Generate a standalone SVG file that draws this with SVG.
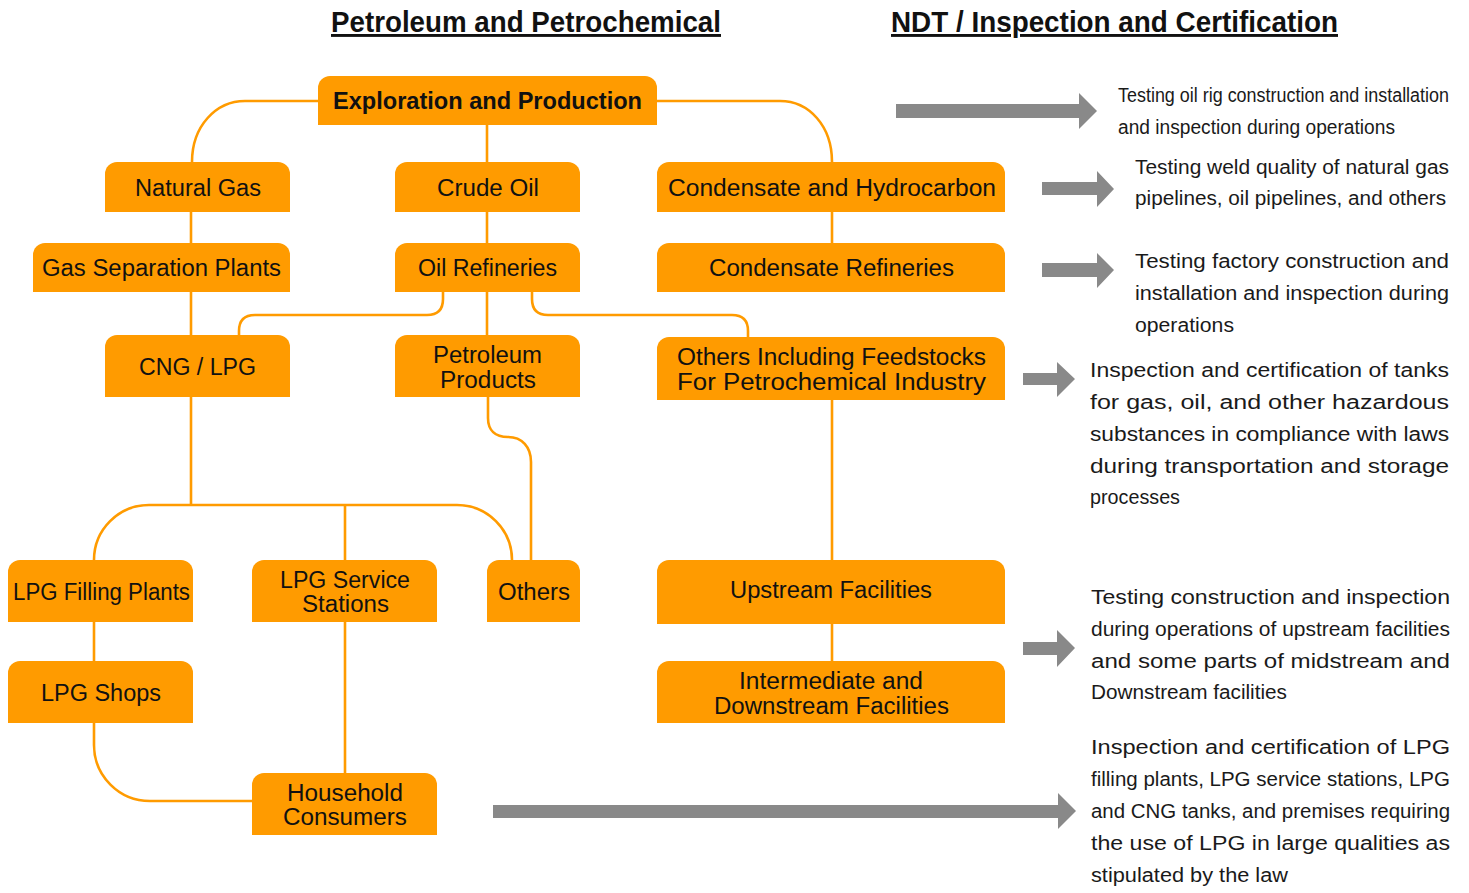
<svg xmlns="http://www.w3.org/2000/svg" width="1469" height="893" viewBox="0 0 1469 893">
<style>
.node{fill:#FF9B00}
.lbl{font-family:"Liberation Sans",Arial,sans-serif;font-size:23px;fill:#111;text-anchor:middle}
.bold{font-weight:bold}
.con{fill:none;stroke:#FF9B00;stroke-width:2.6}
.arr{fill:#898989}
.desc{font-family:"Liberation Sans",Arial,sans-serif;font-size:20px;fill:#1a1a1a}
.title{font-family:"Liberation Sans",Arial,sans-serif;font-size:29px;font-weight:bold;fill:#111;text-decoration:underline}
</style>
<rect width="1469" height="893" fill="#fff"/>
<g id="titles">
<text class="title" x="331" y="32" textLength="390" lengthAdjust="spacingAndGlyphs">Petroleum and Petrochemical</text>
<text class="title" x="891" y="32" textLength="447" lengthAdjust="spacingAndGlyphs">NDT / Inspection and Certification</text>
</g>
<g id="connectors">
<path class="con" d="M318 101 H245 C216 101 192 126 192 162"/>
<path class="con" d="M657 101 H780 C809 101 832 126 832 162"/>
<path class="con" d="M487 125 V162"/>
<path class="con" d="M191 212 V243"/>
<path class="con" d="M487 212 V243"/>
<path class="con" d="M832 212 V243"/>
<path class="con" d="M191 292 V335"/>
<path class="con" d="M487 292 V335"/>
<path class="con" d="M443 292 V299 Q443 315 427 315 H255 Q239 315 239 331 V335"/>
<path class="con" d="M532 292 V299 Q532 315 548 315 H732 Q748 315 748 331 V337"/>
<path class="con" d="M488 397 V418 C488 430 495 437 508 437 C522 437 531 447 531 462 V560"/>
<path class="con" d="M191 397 V505"/>
<path class="con" d="M94 560 A55 55 0 0 1 149 505 H457 A55 55 0 0 1 512 560"/>
<path class="con" d="M345 505 V560"/>
<path class="con" d="M94 622 V661"/>
<path class="con" d="M345 622 V773"/>
<path class="con" d="M94 723 V745 A56 56 0 0 0 150 801 H252"/>
<path class="con" d="M832 400 V560"/>
<path class="con" d="M832 624 V661"/>
</g>
<g id="arrows">
<polygon class="arr" points="896,104 1079,104 1079,93 1097,111 1079,129 1079,118 896,118"/>
<polygon class="arr" points="1042,182 1097,182 1097,171 1114,189 1097,207 1097,195 1042,195"/>
<polygon class="arr" points="1042,263 1097,263 1097,253 1114,270 1097,288 1097,277 1042,277"/>
<polygon class="arr" points="1023,373 1057,373 1057,362 1075,379 1057,397 1057,385 1023,385"/>
<polygon class="arr" points="1023,642 1057,642 1057,630 1075,648 1057,667 1057,655 1023,655"/>
<polygon class="arr" points="493,805 1058,805 1058,793 1076,811 1058,829 1058,818 493,818"/>
</g>
<g id="n-exploration">
<path class="node" d="M318 125 V88 A12 12 0 0 1 330 76 H645 A12 12 0 0 1 657 88 V125 Z"/>
<text class="lbl bold" x="487.5" y="109" textLength="309" lengthAdjust="spacingAndGlyphs">Exploration and Production</text>
</g>
<g id="n-natural-gas">
<path class="node" d="M105 212 V174 A12 12 0 0 1 117 162 H278 A12 12 0 0 1 290 174 V212 Z"/>
<text class="lbl" x="198" y="196" textLength="126" lengthAdjust="spacingAndGlyphs">Natural Gas</text>
</g>
<g id="n-crude-oil">
<path class="node" d="M395 212 V174 A12 12 0 0 1 407 162 H568 A12 12 0 0 1 580 174 V212 Z"/>
<text class="lbl" x="488" y="196" textLength="102" lengthAdjust="spacingAndGlyphs">Crude Oil</text>
</g>
<g id="n-condensate">
<path class="node" d="M657 212 V174 A12 12 0 0 1 669 162 H993 A12 12 0 0 1 1005 174 V212 Z"/>
<text class="lbl" x="832" y="196" textLength="328" lengthAdjust="spacingAndGlyphs">Condensate and Hydrocarbon</text>
</g>
<g id="n-gas-separation">
<path class="node" d="M33 292 V255 A12 12 0 0 1 45 243 H278 A12 12 0 0 1 290 255 V292 Z"/>
<text class="lbl" x="161.5" y="276" textLength="239" lengthAdjust="spacingAndGlyphs">Gas Separation Plants</text>
</g>
<g id="n-oil-refineries">
<path class="node" d="M395 292 V255 A12 12 0 0 1 407 243 H568 A12 12 0 0 1 580 255 V292 Z"/>
<text class="lbl" x="487.5" y="276" textLength="139" lengthAdjust="spacingAndGlyphs">Oil Refineries</text>
</g>
<g id="n-condensate-refineries">
<path class="node" d="M657 292 V255 A12 12 0 0 1 669 243 H993 A12 12 0 0 1 1005 255 V292 Z"/>
<text class="lbl" x="831.5" y="276" textLength="245" lengthAdjust="spacingAndGlyphs">Condensate Refineries</text>
</g>
<g id="n-cng-lpg">
<path class="node" d="M105 397 V347 A12 12 0 0 1 117 335 H278 A12 12 0 0 1 290 347 V397 Z"/>
<text class="lbl" x="197.5" y="375" textLength="117" lengthAdjust="spacingAndGlyphs">CNG / LPG</text>
</g>
<g id="n-petroleum-products">
<path class="node" d="M395 397 V347 A12 12 0 0 1 407 335 H568 A12 12 0 0 1 580 347 V397 Z"/>
<text class="lbl" x="487.5" y="363" textLength="109" lengthAdjust="spacingAndGlyphs">Petroleum</text>
<text class="lbl" x="488" y="388" textLength="96" lengthAdjust="spacingAndGlyphs">Products</text>
</g>
<g id="n-others-feedstocks">
<path class="node" d="M657 400 V349 A12 12 0 0 1 669 337 H993 A12 12 0 0 1 1005 349 V400 Z"/>
<text class="lbl" x="831.5" y="365" textLength="309" lengthAdjust="spacingAndGlyphs">Others Including Feedstocks</text>
<text class="lbl" x="831.5" y="390" textLength="309" lengthAdjust="spacingAndGlyphs">For Petrochemical Industry</text>
</g>
<g id="n-lpg-filling">
<path class="node" d="M8 622 V572 A12 12 0 0 1 20 560 H181 A12 12 0 0 1 193 572 V622 Z"/>
<text class="lbl" x="101.5" y="600" textLength="177" lengthAdjust="spacingAndGlyphs">LPG Filling Plants</text>
</g>
<g id="n-lpg-service">
<path class="node" d="M252 622 V572 A12 12 0 0 1 264 560 H425 A12 12 0 0 1 437 572 V622 Z"/>
<text class="lbl" x="345" y="588" textLength="130" lengthAdjust="spacingAndGlyphs">LPG Service</text>
<text class="lbl" x="345.5" y="612" textLength="87" lengthAdjust="spacingAndGlyphs">Stations</text>
</g>
<g id="n-others">
<path class="node" d="M487 622 V572 A12 12 0 0 1 499 560 H568 A12 12 0 0 1 580 572 V622 Z"/>
<text class="lbl" x="534" y="600" textLength="72" lengthAdjust="spacingAndGlyphs">Others</text>
</g>
<g id="n-upstream">
<path class="node" d="M657 624 V572 A12 12 0 0 1 669 560 H993 A12 12 0 0 1 1005 572 V624 Z"/>
<text class="lbl" x="831" y="598" textLength="202" lengthAdjust="spacingAndGlyphs">Upstream Facilities</text>
</g>
<g id="n-lpg-shops">
<path class="node" d="M8 723 V673 A12 12 0 0 1 20 661 H181 A12 12 0 0 1 193 673 V723 Z"/>
<text class="lbl" x="101" y="701" textLength="120" lengthAdjust="spacingAndGlyphs">LPG Shops</text>
</g>
<g id="n-intermediate">
<path class="node" d="M657 723 V673 A12 12 0 0 1 669 661 H993 A12 12 0 0 1 1005 673 V723 Z"/>
<text class="lbl" x="831" y="689" textLength="184" lengthAdjust="spacingAndGlyphs">Intermediate and</text>
<text class="lbl" x="831.5" y="714" textLength="235" lengthAdjust="spacingAndGlyphs">Downstream Facilities</text>
</g>
<g id="n-household">
<path class="node" d="M252 835 V785 A12 12 0 0 1 264 773 H425 A12 12 0 0 1 437 785 V835 Z"/>
<text class="lbl" x="345" y="801" textLength="116" lengthAdjust="spacingAndGlyphs">Household</text>
<text class="lbl" x="345" y="825" textLength="124" lengthAdjust="spacingAndGlyphs">Consumers</text>
</g>
<g id="desc-1">
<text class="desc" x="1118" y="102" textLength="331" lengthAdjust="spacingAndGlyphs">Testing oil rig construction and installation</text>
<text class="desc" x="1118" y="134" textLength="277" lengthAdjust="spacingAndGlyphs">and inspection during operations</text>
</g>
<g id="desc-2">
<text class="desc" x="1135" y="174" textLength="314" lengthAdjust="spacingAndGlyphs">Testing weld quality of natural gas</text>
<text class="desc" x="1135" y="205" textLength="311" lengthAdjust="spacingAndGlyphs">pipelines, oil pipelines, and others</text>
</g>
<g id="desc-3">
<text class="desc" x="1135" y="268" textLength="314" lengthAdjust="spacingAndGlyphs">Testing factory construction and</text>
<text class="desc" x="1135" y="300" textLength="314" lengthAdjust="spacingAndGlyphs">installation and inspection during</text>
<text class="desc" x="1135" y="332" textLength="99" lengthAdjust="spacingAndGlyphs">operations</text>
</g>
<g id="desc-4">
<text class="desc" x="1090" y="377" textLength="359" lengthAdjust="spacingAndGlyphs">Inspection and certification of tanks</text>
<text class="desc" x="1090" y="409" textLength="359" lengthAdjust="spacingAndGlyphs">for gas, oil, and other hazardous</text>
<text class="desc" x="1090" y="441" textLength="359" lengthAdjust="spacingAndGlyphs">substances in compliance with laws</text>
<text class="desc" x="1090" y="473" textLength="359" lengthAdjust="spacingAndGlyphs">during transportation and storage</text>
<text class="desc" x="1090" y="504" textLength="90" lengthAdjust="spacingAndGlyphs">processes</text>
</g>
<g id="desc-5">
<text class="desc" x="1091" y="604" textLength="359" lengthAdjust="spacingAndGlyphs">Testing construction and inspection</text>
<text class="desc" x="1091" y="636" textLength="359" lengthAdjust="spacingAndGlyphs">during operations of upstream facilities</text>
<text class="desc" x="1091" y="668" textLength="359" lengthAdjust="spacingAndGlyphs">and some parts of midstream and</text>
<text class="desc" x="1091" y="699" textLength="196" lengthAdjust="spacingAndGlyphs">Downstream facilities</text>
</g>
<g id="desc-6">
<text class="desc" x="1091" y="754" textLength="359" lengthAdjust="spacingAndGlyphs">Inspection and certification of LPG</text>
<text class="desc" x="1091" y="786" textLength="359" lengthAdjust="spacingAndGlyphs">filling plants, LPG service stations, LPG</text>
<text class="desc" x="1091" y="818" textLength="359" lengthAdjust="spacingAndGlyphs">and CNG tanks, and premises requiring</text>
<text class="desc" x="1091" y="850" textLength="359" lengthAdjust="spacingAndGlyphs">the use of LPG in large qualities as</text>
<text class="desc" x="1091" y="882" textLength="197" lengthAdjust="spacingAndGlyphs">stipulated by the law</text>
</g>
</svg>
